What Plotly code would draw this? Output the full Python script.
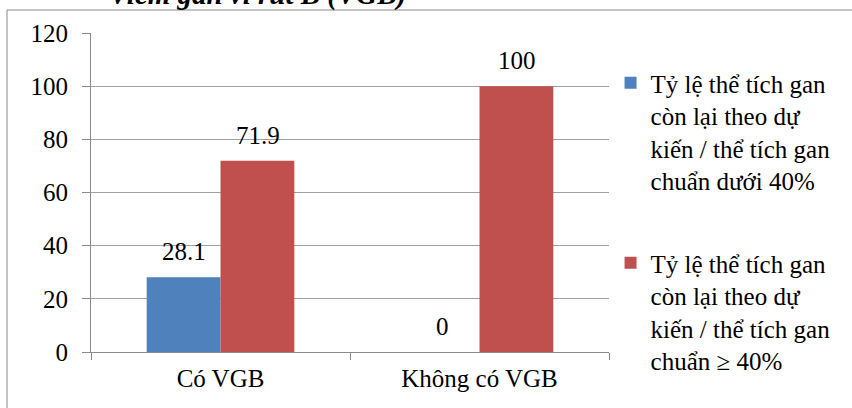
import plotly.graph_objects as go

categories = ["Có VGB", "Không có VGB"]
series_names = [
    "Tỷ lệ thể tích gan<br>còn lại theo dự<br>kiến / thể tích gan<br>chuẩn dưới 40%",
    "Tỷ lệ thể tích gan<br>còn lại theo dự<br>kiến / thể tích gan<br>chuẩn ≥ 40%",
]
below40 = [28.1, 0]
above40 = [71.9, 100]
colors = ["#4F81BD", "#C0504D"]
title_text = "Viêm gan vi rút B (VGB)"

FONT = "Times New Roman"
FS = 25

fig = go.Figure()
for i, (name, vals) in enumerate(zip(series_names, [below40, above40])):
    fig.add_trace(go.Bar(
        x=categories, y=vals, name=name,
        marker=dict(color=colors[i], line=dict(width=0)),
        legendgroup=f"g{i}",
    ))

# data labels
offsets = [-37, 37]
annotations = []
for i, vals in enumerate([below40, above40]):
    for c, v in zip(categories, vals):
        annotations.append(dict(
            x=c, y=v, xref="x", yref="y", text=f"{v:g}", showarrow=False,
            xshift=offsets[i], yshift=10, yanchor="bottom", xanchor="center",
            font=dict(family=FONT, size=FS, color="black"),
        ))

annotations.append(dict(
    x=0.031, y=1.063, xref="paper", yref="paper", text=f"<b><i>{title_text}</i></b>",
    showarrow=False, xanchor="left", yanchor="bottom",
    font=dict(family=FONT, size=29, color="black"),
))

fig.update_layout(
    width=852, height=408,
    margin=dict(l=91, r=243, t=33, b=56, autoexpand=False),
    paper_bgcolor="white", plot_bgcolor="white",
    barmode="group", bargap=0.43, bargroupgap=0,
    font=dict(family=FONT, size=FS, color="black"),
    showlegend=True,
    legend=dict(
        x=1.003, y=0.915, xanchor="left", yanchor="top",
        font=dict(family=FONT, size=FS, color="black"),
        itemwidth=30, valign="top", tracegroupgap=47,
        traceorder="grouped", bgcolor="rgba(0,0,0,0)",
        maxheight=400,
    ),
    annotations=annotations,
    shapes=[dict(
        type="rect", xref="paper", yref="paper",
        x0=(7 - 91) / 518, x1=2.0, y0=-1.0, y1=(352 - 10) / 319,
        line=dict(color="#8a8a8a", width=1), fillcolor="rgba(0,0,0,0)",
        layer="below",
    )],
)

fig.update_yaxes(
    range=[0, 120], dtick=20, showgrid=True, gridcolor="#a0a0a0", gridwidth=1,
    showline=True, linecolor="#8a8a8a", linewidth=1,
    ticks="outside", ticklen=8, tickcolor="#8a8a8a",
    tickfont=dict(family=FONT, size=FS, color="black"),
    zeroline=False, ticklabelstandoff=9,
)
fig.update_xaxes(
    showline=True, linecolor="#8a8a8a", linewidth=1,
    ticks="outside", ticklen=7, tickcolor="#8a8a8a", tickson="boundaries",
    tickfont=dict(family=FONT, size=FS, color="black"),
    showgrid=False, ticklabelstandoff=4,
)

fig.write_html("out.html", config={"displayModeBar": False},
               post_script="document.body.style.margin='0';")
